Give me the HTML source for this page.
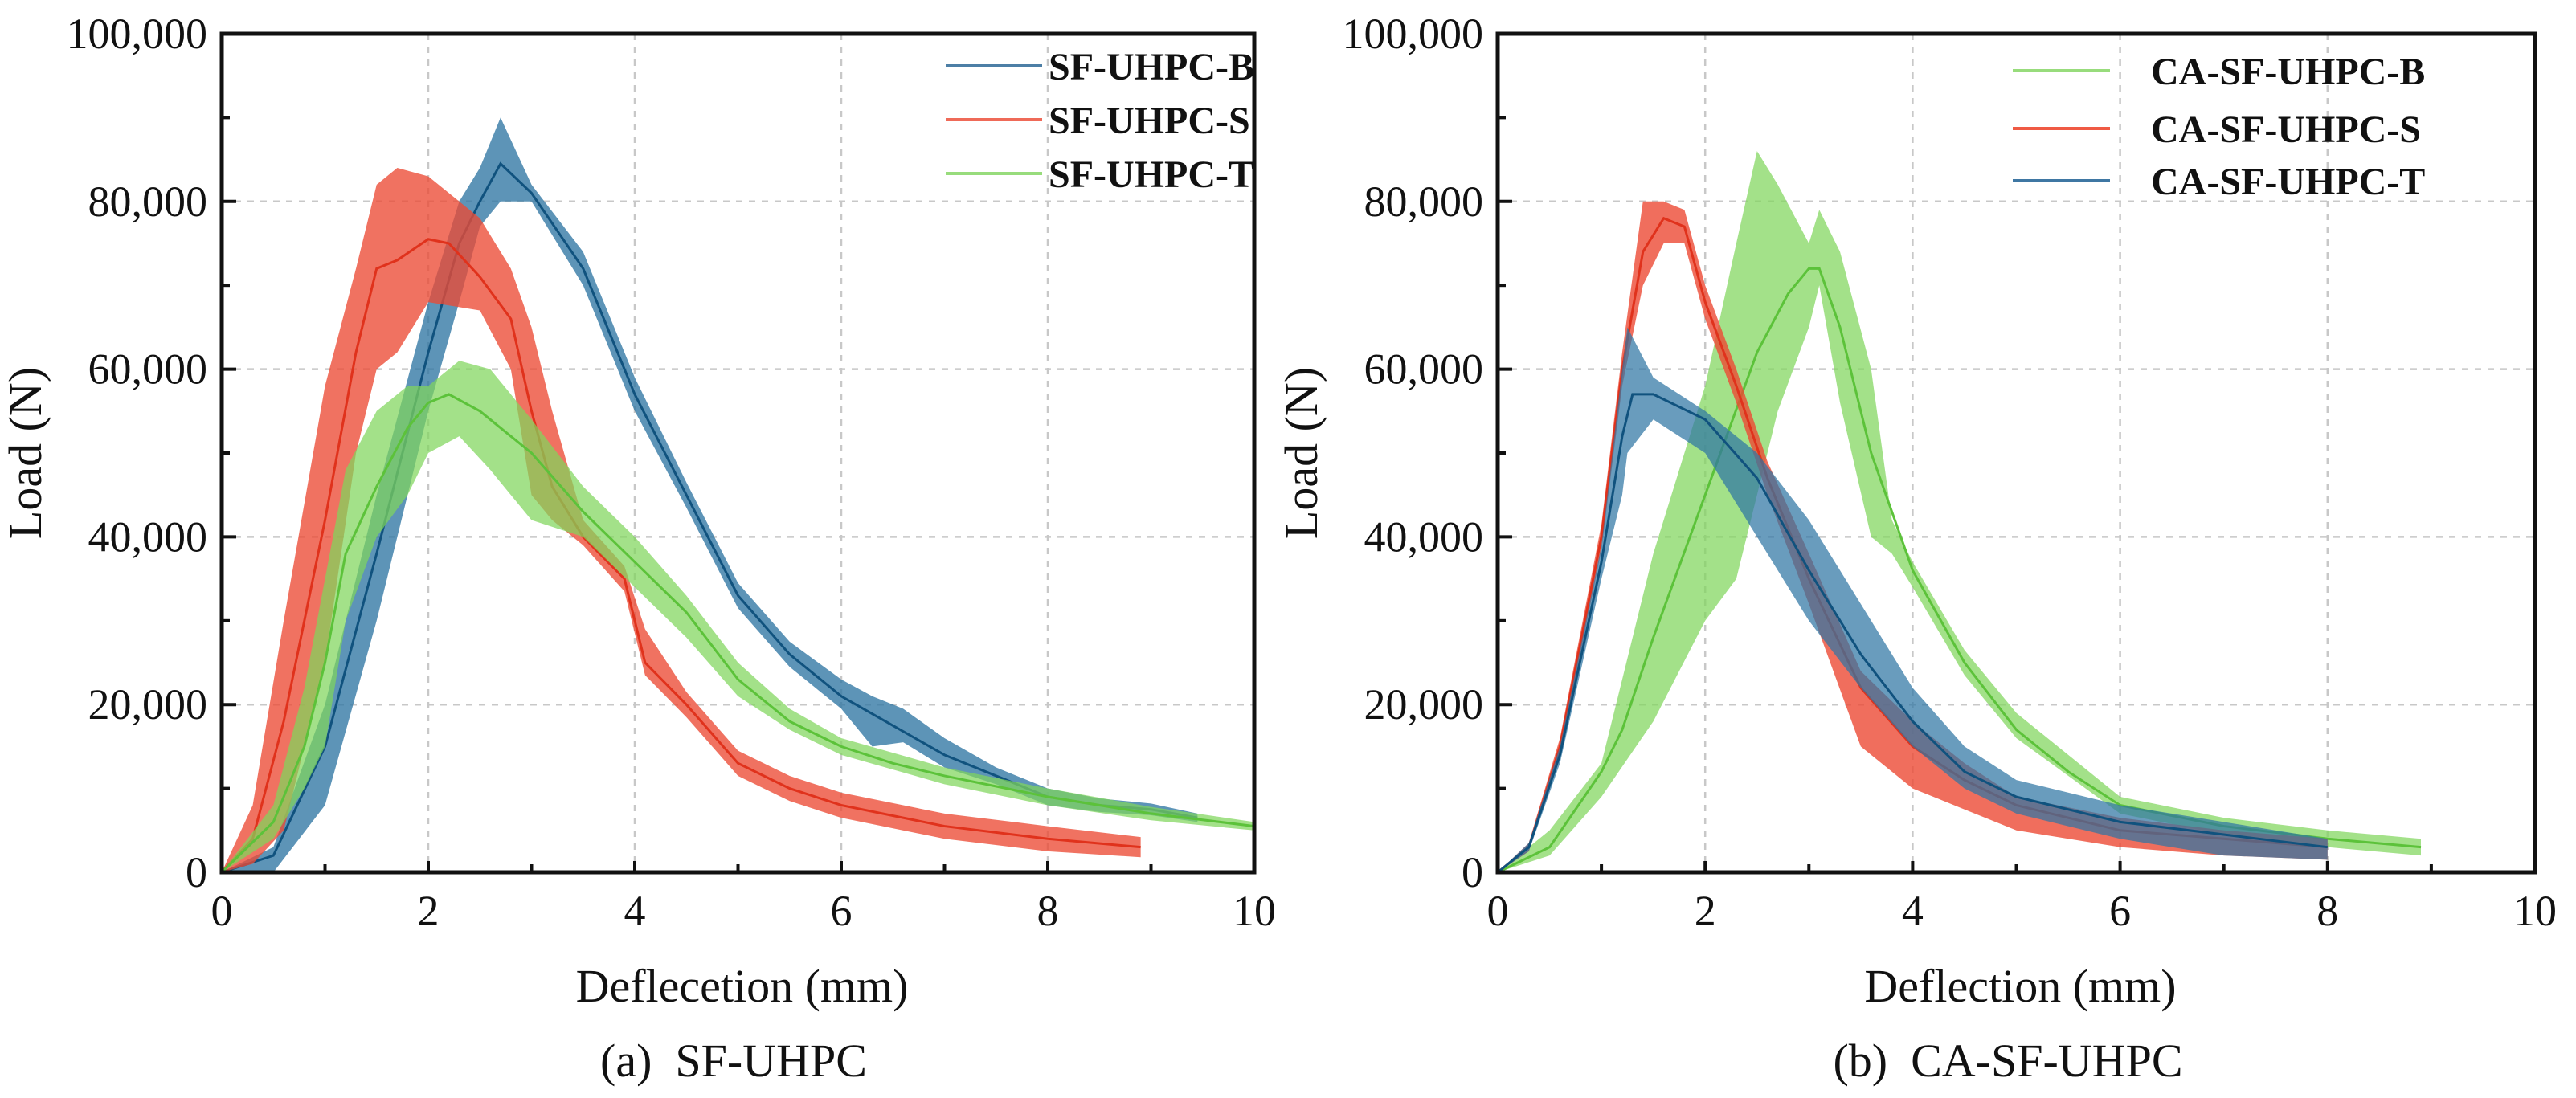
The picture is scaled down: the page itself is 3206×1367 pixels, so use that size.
<!DOCTYPE html>
<html><head><meta charset="utf-8"><style>
html,body{margin:0;padding:0;background:#fff;}
svg{display:block;font-family:"Liberation Serif","Times New Roman",serif;}
</style></head><body>
<svg id="fig" width="3206" height="1367" viewBox="0 0 3206 1367" xmlns="http://www.w3.org/2000/svg"></svg>
<script>
// ===== Data: panel (a) SF-UHPC =====
const xTicks = [0,2,4,6,8,10];
const yTicks = [0,20000,40000,60000,80000,100000];
const yTickLabels = ["0","20,000","40,000","60,000","80,000","100,000"];

const aB_lineX = [0,0.5,1,1.5,2,2.3,2.5,2.7,3,3.5,4,4.5,5,5.5,6,6.5,7,7.5,8,8.5,9,9.45];
const aB_lineY = [0,2000,15000,38000,62000,75000,80000,84500,81000,72000,57000,45000,33000,26000,21000,17500,14000,11500,9000,8000,7500,6500];
const aB_bandX = [0,0.5,1,1.5,2,2.3,2.5,2.7,3,3.5,4,4.5,5,5.5,6,6.3,6.6,7,7.5,8,8.5,9,9.45];
const aB_bandLo = [0,0,8000,30000,55000,68000,77000,80000,80000,70000,55000,43500,31500,24500,19500,15000,15500,12500,10500,8000,7200,6800,6000];
const aB_bandHi = [0,3000,20000,45000,68000,80000,84000,90000,82000,74000,59000,46500,34500,27500,23000,21000,19500,16000,12500,10000,8800,8200,7000];

const aS_lineX = [0,0.3,0.6,1,1.3,1.5,1.7,2,2.2,2.5,2.8,3,3.2,3.5,3.9,4.1,4.5,5,5.5,6,7,8,8.9];
const aS_lineY = [0,4000,18000,42000,62000,72000,73000,75500,75000,71000,66000,55000,46000,40000,35000,25000,20000,13000,10000,8000,5500,4000,3000];
const aS_bandX = [0,0.3,0.6,1,1.3,1.5,1.7,2,2.5,2.8,3,3.2,3.5,3.9,4.1,4.5,5,5.5,6,7,8,8.9];
const aS_bandLo = [0,1000,5000,25000,50000,60000,62000,68000,67000,60000,45000,42000,39000,33500,23500,18500,11500,8500,6500,4000,2500,1800];
const aS_bandHi = [0,8000,30000,58000,72000,82000,84000,83000,78000,72000,65000,55000,42000,36500,29000,21500,14500,11500,9500,7000,5500,4200];

const aT_lineX = [0,0.5,0.8,1,1.2,1.5,1.8,2,2.2,2.5,3,3.5,4,4.5,5,5.5,6,6.5,7,8,9,10];
const aT_lineY = [0,6000,15000,25000,38000,46000,53000,56000,57000,55000,50000,43000,37000,31000,23000,18000,15000,13000,11500,9000,7000,5500];
const aT_bandX = [0,0.5,0.8,1,1.2,1.5,1.8,2,2.3,2.6,3,3.5,4,4.5,5,5.5,6,7,8,9,10];
const aT_bandLo = [0,4000,10000,15000,30000,40000,45000,50000,52000,48000,42000,40000,34000,28000,21000,17000,14000,10500,8000,6200,5000];
const aT_bandHi = [0,8000,22000,35000,48000,55000,58000,58000,61000,60000,54000,46000,40000,33000,25000,19500,16000,12500,10000,7800,6000];

// ===== Data: panel (b) CA-SF-UHPC =====
const bB_lineX = [0,0.5,1,1.2,1.5,2,2.5,2.8,3,3.1,3.3,3.6,4,4.5,5,5.5,6,7,8,8.9];
const bB_lineY = [0,3000,12000,17000,28000,45000,62000,69000,72000,72000,65000,50000,36000,25000,17000,12000,8000,5500,4000,3000];
const bB_bandX = [0,0.5,1,1.5,2,2.3,2.5,2.7,3,3.1,3.3,3.6,3.8,4,4.5,5,6,7,8,8.9];
const bB_bandLo = [0,2000,9000,18000,30000,35000,45000,55000,65000,70000,56000,40000,38000,34000,23500,16000,7000,4500,3000,2000];
const bB_bandHi = [0,5000,13000,38000,58000,75000,86000,82000,75000,79000,74000,60000,42000,37000,26500,19000,9000,6500,5000,4000];

const bS_lineX = [0,0.3,0.6,1,1.2,1.4,1.6,1.8,2,2.3,2.6,3,3.5,4,4.5,5,6,7,8];
const bS_lineY = [0,3000,15000,40000,60000,74000,78000,77000,68000,58000,47000,35000,22000,15000,11000,8000,5000,4000,3000];
const bS_bandX = [0,0.3,0.6,1,1.2,1.4,1.6,1.8,2,2.3,2.6,3,3.5,4,4.5,5,6,7,8];
const bS_bandLo = [0,2500,14000,38500,58000,70000,75000,75000,66000,56000,45000,32000,15000,10000,7500,5000,3000,2000,1500];
const bS_bandHi = [0,3500,16000,41500,62000,80000,80000,79000,70000,60000,49000,38000,24000,18000,13000,9000,6500,5000,4000];

const bT_lineX = [0,0.3,0.6,1,1.2,1.3,1.5,2,2.5,3,3.5,4,4.5,5,6,7,8];
const bT_lineY = [0,3000,14000,37000,52000,57000,57000,54000,47000,36000,26000,18000,12000,9000,6000,4500,3000];
const bT_bandX = [0,0.3,0.6,1,1.2,1.25,1.5,2,2.5,3,3.5,4,4.5,5,6,7,8];
const bT_bandLo = [0,2500,13000,35000,45000,50000,54000,50000,40000,30000,22000,15000,10000,7000,4000,2000,1500];
const bT_bandHi = [0,3500,15000,39000,60000,65000,59000,55000,50000,42000,32000,22000,15000,11000,8000,6000,4000];

// ===== Rendering =====
const NS = "http://www.w3.org/2000/svg";
const svg = document.getElementById("fig");
function mk(tag, attrs, parent){
  const e = document.createElementNS(NS, tag);
  for (const k in attrs) e.setAttribute(k, attrs[k]);
  (parent||svg).appendChild(e);
  return e;
}
const Y0 = 1086, Y1 = 42;

function panel(id, X0, X1, series, legend, xTitle, caption, capX){
  const g = mk("g", {});
  
  
  const sx = v => X0 + (X1 - X0) * v / 10;
  const sy = v => Y0 - (Y0 - Y1) * v / 100000;
  [2,4,6,8].forEach(t => {
    const l = mk("line", {x1:sx(t), x2:sx(t), y1:Y1, y2:Y0, stroke:"#c8c8c8", "stroke-width":2.5, "stroke-dasharray":"8 8"}, g);
    
    
  });
  [20000,40000,60000,80000].forEach(t => {
    const l = mk("line", {x1:X0, x2:X1, y1:sy(t), y2:sy(t), stroke:"#c8c8c8", "stroke-width":2.5, "stroke-dasharray":"8 8"}, g);
    
    
  });
  series.forEach(s => {
    let pts = [];
    for (let i=0;i<s.bx.length;i++) pts.push(sx(s.bx[i])+","+sy(s.lo[i]));
    for (let i=s.bx.length-1;i>=0;i--) pts.push(sx(s.bx[i])+","+sy(s.hi[i]));
    const band = mk("polygon", {points:pts.join(" "), fill:s.fill, "fill-opacity":s.op}, g);
    
    
    let lp = s.lx.map((x,i)=>sx(x)+","+sy(s.ly[i])).join(" ");
    const line = mk("polyline", {points:lp, fill:"none", stroke:s.line, "stroke-width":3}, g);
    
    
  });
  const fr = mk("rect", {x:X0, y:Y1, width:X1-X0, height:Y0-Y1, fill:"none", stroke:"#111", "stroke-width":5}, g);
  
  
  for (let t=0;t<=10;t++){
    const len = t%2===0 ? 14 : 10;
    const tk = mk("line", {x1:sx(t), x2:sx(t), y1:Y0, y2:Y0-len, stroke:"#111", "stroke-width":4}, g);
    
    
  }
  for (let t=0;t<=100000;t+=10000){
    const len = t%20000===0 ? 18 : 10;
    const tk = mk("line", {x1:X0, x2:X0+len, y1:sy(t), y2:sy(t), stroke:"#111", "stroke-width":4}, g);
    
    
  }
  xTicks.forEach(t => {
    const tx = mk("text", {x:sx(t), y:1152, "font-size":54, "text-anchor":"middle", fill:"#111"}, g);
    tx.textContent = String(t);
    
    
  });
  yTicks.forEach((t,i) => {
    const tx = mk("text", {x:X0-18, y:sy(t)+18, "font-size":54, "text-anchor":"end", fill:"#111"}, g);
    tx.textContent = yTickLabels[i];
    
    
  });
  const yt = mk("text", {x:0, y:0, "font-size":58, "text-anchor":"middle", fill:"#111", transform:`translate(${X0-225},564) rotate(-90)`}, g);
  yt.textContent = "Load (N)";
  
  
  const xt = mk("text", {x:(X0+X1)/2+5, y:1247, "font-size":58, "text-anchor":"middle", fill:"#111"}, g);
  xt.textContent = xTitle;
  
  
  const cp = mk("text", {x:capX, y:1340, "font-size":58, "text-anchor":"middle", fill:"#111"}, g);
  cp.textContent = caption;
  
  
  legend.items.forEach((it,i) => {
    const y = legend.ys[i];
    const ll = mk("line", {x1:legend.lx1, x2:legend.lx2, y1:y, y2:y, stroke:it.color, "stroke-width":4}, g);
    
    
    const lt = mk("text", {x:legend.tx, y:y+17, "font-size":48, "font-weight":"bold", fill:"#111"}, g);
    lt.textContent = it.label;
    
    
  });
}

const BLUE_F="#2f76a3", BLUE_L="#10527e", RED_F="#ec4a34", RED_L="#e0321c", GREEN_F="#7fd65c", GREEN_L="#5cc23a";

panel("sf-uhpc", 276, 1561, [
  {name:"sf-uhpc-b", bx:aB_bandX, lo:aB_bandLo, hi:aB_bandHi, lx:aB_lineX, ly:aB_lineY, fill:BLUE_F, op:0.78, line:BLUE_L},
  {name:"sf-uhpc-s", bx:aS_bandX, lo:aS_bandLo, hi:aS_bandHi, lx:aS_lineX, ly:aS_lineY, fill:RED_F, op:0.78, line:RED_L},
  {name:"sf-uhpc-t", bx:aT_bandX, lo:aT_bandLo, hi:aT_bandHi, lx:aT_lineX, ly:aT_lineY, fill:GREEN_F, op:0.72, line:GREEN_L}
], {lx1:1177, lx2:1297, tx:1305, ys:[82,149,216], items:[
  {label:"SF-UHPC-B", color:"#4d7fa6"}, {label:"SF-UHPC-S", color:"#ef6a58"}, {label:"SF-UHPC-T", color:"#98dc7c"}]},
  "Deflecetion (mm)", "(a)\u00a0\u00a0SF-UHPC", 913);

panel("ca-sf-uhpc", 1864, 3155, [
  {name:"ca-sf-uhpc-b", bx:bB_bandX, lo:bB_bandLo, hi:bB_bandHi, lx:bB_lineX, ly:bB_lineY, fill:GREEN_F, op:0.72, line:GREEN_L},
  {name:"ca-sf-uhpc-s", bx:bS_bandX, lo:bS_bandLo, hi:bS_bandHi, lx:bS_lineX, ly:bS_lineY, fill:RED_F, op:0.8, line:RED_L},
  {name:"ca-sf-uhpc-t", bx:bT_bandX, lo:bT_bandLo, hi:bT_bandHi, lx:bT_lineX, ly:bT_lineY, fill:BLUE_F, op:0.72, line:BLUE_L}
], {lx1:2505, lx2:2626, tx:2677, ys:[88,160,225], items:[
  {label:"CA-SF-UHPC-B", color:"#98dc7c"}, {label:"CA-SF-UHPC-S", color:"#ef5a44"}, {label:"CA-SF-UHPC-T", color:"#3f77a3"}]},
  "Deflection (mm)", "(b)\u00a0\u00a0CA-SF-UHPC", 2499);
</script>
</body></html>
